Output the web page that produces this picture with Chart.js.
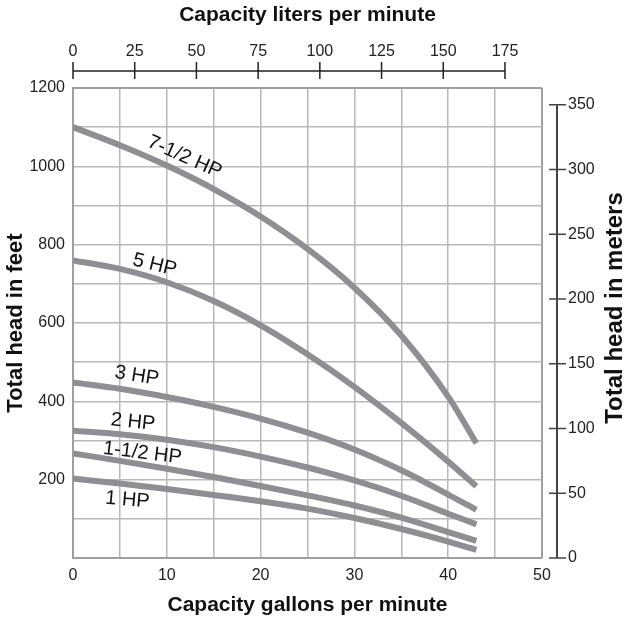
<!DOCTYPE html>
<html>
<head>
<meta charset="utf-8">
<style>
  html, body { margin: 0; padding: 0; background: #fff; }
  #wrap { width: 626px; height: 621px; position: relative; }
</style>
</head>
<body>
<div id="wrap"><canvas id="pumpChart"></canvas></div>

<script src="https://cdn.jsdelivr.net/npm/chart.js/dist/chart.umd.min.js"></script>
<script>
// capacity in gallons per minute
const gpm = [0, 5, 10, 15, 20, 25, 30, 35, 40, 43];

// total head in feet for each motor size
const hp7_5 = [1100, 1054, 1002, 942, 872, 789, 690, 568, 412, 293];
const hp5   = [760, 738, 704, 656, 594, 520, 437, 345, 246, 183];
const hp3   = [448, 432, 411, 386, 356, 320, 277, 224, 162, 123];
const hp2   = [325, 316, 302, 283, 259, 231, 198, 159, 113, 86];
const hp1_5 = [267, 248, 228, 207, 184, 160, 134, 103, 66, 44];
const hp1   = [203, 190, 176, 161, 145, 126, 102, 74, 42, 21];

const seriesNames = ['7-1/2 HP', '5 HP', '3 HP', '2 HP', '1-1/2 HP', '1 HP'];
const seriesValues = [hp7_5, hp5, hp3, hp2, hp1_5, hp1];

// secondary axis ticks and ranges (liters/min on top, meters on the right)
const literTicks = [0, 25, 50, 75, 100, 125, 150, 175];
const meterTicks = [0, 50, 100, 150, 200, 250, 300, 350];
const literMax = 190;
const meterMax = 363;

// where the curve names sit (in gpm / feet) and how much they tilt
const curveLabels = [
  { text: '7-1/2 HP', x: 11.9, y: 1024, angle: 24 },
  { text: '5 HP',     x: 8.7,  y: 748,  angle: 14 },
  { text: '3 HP',     x: 6.8,  y: 465,  angle: 9 },
  { text: '2 HP',     x: 6.4,  y: 347,  angle: 6 },
  { text: '1-1/2 HP', x: 7.4,  y: 268,  angle: 7 },
  { text: '1 HP',     x: 5.8,  y: 148,  angle: 5 }
];

const FONT = '"Liberation Sans", Arial, sans-serif';
const curveColor = '#8e8e93';
const gridColor = '#b8b8b8';
const frameColor = '#a0a0a0';

const datasets = seriesValues.map((vals, i) => ({
  label: seriesNames[i],
  data: gpm.map((g, j) => ({ x: g, y: vals[j] })),
  borderColor: curveColor,
  borderWidth: 6,
  borderCapStyle: 'butt',
  pointRadius: 0,
  fill: false,
  cubicInterpolationMode: 'monotone'
}));

// curve names written along the lines
const curveLabelPlugin = {
  id: 'curveLabels',
  afterDatasetsDraw(chart) {
    const { ctx, scales } = chart;
    ctx.save();
    ctx.font = '20px ' + FONT;
    ctx.fillStyle = '#111';
    ctx.textAlign = 'center';
    ctx.textBaseline = 'middle';
    curveLabels.forEach(l => {
      ctx.save();
      ctx.translate(scales.x.getPixelForValue(l.x), scales.y.getPixelForValue(l.y));
      ctx.rotate(l.angle * Math.PI / 180);
      ctx.fillText(l.text, 0, 0);
      ctx.restore();
    });
    ctx.restore();
  }
};

// the detached liters axis on top and meters axis on the right
const sideAxesPlugin = {
  id: 'sideAxes',
  afterDraw(chart) {
    const { ctx, scales, chartArea } = chart;
    const x2 = scales.x2, y2 = scales.y2;
    ctx.save();

    // liters per minute line
    const ly = chartArea.top - 17;
    ctx.strokeStyle = '#222';
    ctx.lineWidth = 1.5;
    ctx.beginPath();
    ctx.moveTo(x2.getPixelForValue(literTicks[0]), ly);
    ctx.lineTo(x2.getPixelForValue(literTicks[literTicks.length - 1]), ly);
    literTicks.forEach(t => {
      const px = x2.getPixelForValue(t);
      ctx.moveTo(px, ly - 9);
      ctx.lineTo(px, ly + 8);
    });
    ctx.stroke();

    // meters line
    const mx = chartArea.right + 15;
    ctx.strokeStyle = '#444';
    ctx.lineWidth = 2;
    ctx.beginPath();
    ctx.moveTo(mx, y2.getPixelForValue(meterTicks[0]));
    ctx.lineTo(mx, y2.getPixelForValue(meterTicks[meterTicks.length - 1]));
    ctx.stroke();
    ctx.lineWidth = 1.5;
    ctx.beginPath();
    meterTicks.forEach(t => {
      const py = y2.getPixelForValue(t);
      ctx.moveTo(mx - 8, py);
      ctx.lineTo(mx + 9, py);
    });
    ctx.stroke();

    // right title reads bottom to top
    ctx.font = 'bold 24px ' + FONT;
    ctx.fillStyle = '#111';
    ctx.textAlign = 'center';
    ctx.textBaseline = 'middle';
    ctx.translate(615, (chartArea.top + chartArea.bottom) / 2 - 15);
    ctx.rotate(-Math.PI / 2);
    ctx.fillText('Total head in meters', 0, 0);
    ctx.restore();
  }
};

const tickFont = { family: FONT, size: 16 };
const titleFont = { family: FONT, size: 21, weight: 'bold' };

const config = {
  type: 'line',
  data: { datasets: datasets },
  options: {
    responsive: true,
    maintainAspectRatio: false,
    animation: false,
    layout: { padding: 0 },
    plugins: {
      legend: { display: false },
      tooltip: { enabled: false }
    },
    scales: {
      x: {
        type: 'linear',
        position: 'bottom',
        min: 0,
        max: 50,
        ticks: {
          stepSize: 5,
          font: tickFont,
          color: '#222',
          padding: 8,
          maxRotation: 0,
          callback: v => (v % 10 === 0 ? v : '')
        },
        grid: {
          color: c => (c.tick && c.tick.value === 50 ? frameColor : gridColor),
          lineWidth: c => (c.tick && c.tick.value === 50 ? 2 : 1.5),
          drawTicks: false
        },
        border: { color: frameColor, width: 2 },
        title: {
          display: true,
          text: 'Capacity gallons per minute',
          font: titleFont,
          color: '#111',
          padding: { top: 0, bottom: 3 }
        },
        afterFit: s => { s.height = 63; }
      },
      x2: {
        type: 'linear',
        position: 'top',
        min: 0,
        max: literMax,
        ticks: {
          stepSize: 25,
          includeBounds: false,
          font: tickFont,
          color: '#222',
          padding: 27,
          maxRotation: 0
        },
        grid: { drawOnChartArea: false, drawTicks: false },
        border: { display: false },
        title: {
          display: true,
          text: 'Capacity liters per minute',
          font: titleFont,
          color: '#111',
          padding: { top: 3, bottom: 0 }
        },
        afterFit: s => { s.height = 88; }
      },
      y: {
        type: 'linear',
        position: 'left',
        min: 0,
        max: 1200,
        ticks: {
          stepSize: 100,
          font: tickFont,
          color: '#222',
          padding: 8,
          callback: v => (v % 200 === 0 && v !== 0 ? v : '')
        },
        grid: {
          color: c => (c.tick && c.tick.value === 1200 ? frameColor : gridColor),
          lineWidth: c => (c.tick && c.tick.value === 1200 ? 2 : 1.5),
          drawTicks: false
        },
        border: { color: frameColor, width: 2 },
        title: {
          display: true,
          text: 'Total head in feet',
          font: { family: FONT, size: 22, weight: 'bold' },
          color: '#111',
          padding: { top: 3, bottom: 0 }
        },
        afterFit: s => { s.width = 73; }
      },
      y2: {
        type: 'linear',
        position: 'right',
        min: 0,
        max: meterMax,
        ticks: {
          stepSize: 50,
          includeBounds: false,
          font: tickFont,
          color: '#222',
          padding: 26
        },
        grid: { drawOnChartArea: false, drawTicks: false },
        border: { display: false },
        afterFit: s => { s.width = 84; }
      }
    }
  },
  plugins: [curveLabelPlugin, sideAxesPlugin]
};

new Chart(document.getElementById('pumpChart'), config);
</script>
</body>
</html>
